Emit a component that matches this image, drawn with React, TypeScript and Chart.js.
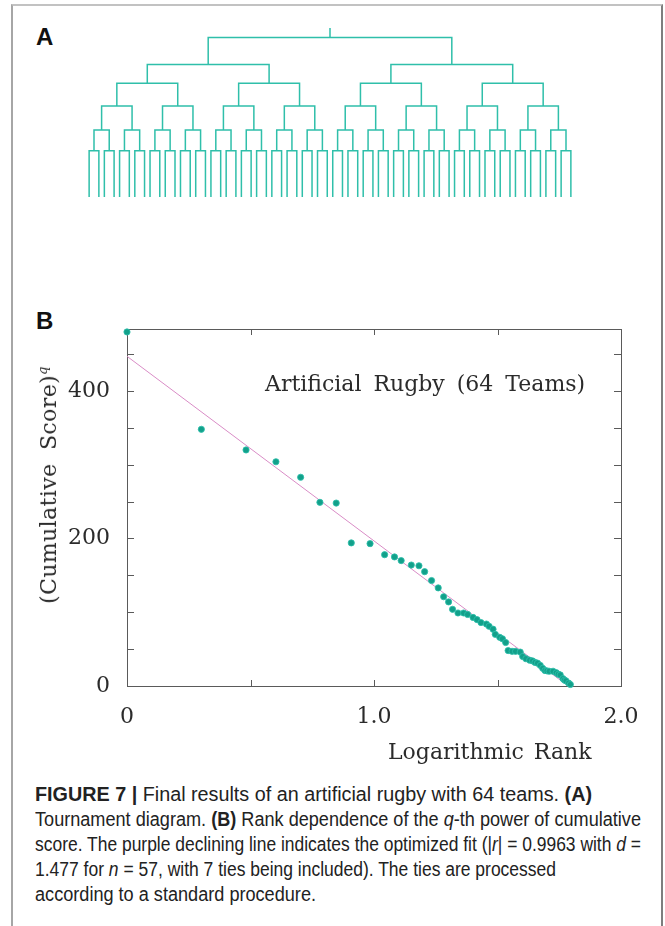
import React, { useEffect, useLayoutEffect, useRef } from 'react';
import { Chart, registerables } from 'chart.js';

Chart.register(...registerables);

// ---------------- Panel B data ----------------
const logRank: number[] = [
  0, 0.301, 0.482, 0.603, 0.703, 0.781, 0.847, 0.908, 0.984, 1.043,
  1.083, 1.110, 1.151, 1.182, 1.205, 1.233, 1.260, 1.282, 1.302, 1.318,
  1.340, 1.363, 1.379, 1.401, 1.417, 1.433, 1.455, 1.466, 1.482, 1.491,
  1.509, 1.520, 1.533, 1.543, 1.559, 1.573, 1.592, 1.602, 1.615, 1.630,
  1.642, 1.652, 1.662, 1.673, 1.683, 1.692, 1.700, 1.709, 1.725, 1.738,
  1.746, 1.754, 1.765, 1.771, 1.777, 1.788, 1.795,
];
const cumScoreQ: number[] = [
  480, 348, 320, 304, 283, 249, 248, 194, 193, 178,
  175, 170, 164, 163, 155, 143, 133, 121, 114, 104,
  99, 99, 97, 93, 90, 86, 84, 81, 77, 70,
  66, 64, 59, 48, 47, 47, 46, 40, 37, 35,
  34, 32, 31, 28, 24, 21, 20.5, 20, 20, 18,
  16, 15, 10, 8, 7, 4, 2,
];
const fitX: number[] = [0, 1.786];
const fitY: number[] = [447, 0];

const xLabelValues: number[] = [0, 1, 2];
const xLabelTexts: string[] = ['0', '1.0', '2.0'];
const yLabelValues: number[] = [0, 200, 400];
const yLabelTexts: string[] = ['0', '200', '400'];

// ---------------- Panel A (tournament bracket) ----------------
const teamCount = 64;
const roundHeights: number[] = [0, 46, 66.7, 90.7, 113.4, 132, 159];
const rootStemTop = 168.4;
const pairHalfWidth = 0.32;

function buildBracket() {
  const pts: { x: number; y: number | null }[] = [];
  let nodes: number[] = [];
  for (let k = 0; k < teamCount / 2; k++) nodes.push(k - pairHalfWidth, k + pairHalfWidth);
  for (let level = 1; level < roundHeights.length; level++) {
    const next: number[] = [];
    const hPrev = roundHeights[level - 1];
    const h = roundHeights[level];
    for (let i = 0; i < nodes.length; i += 2) {
      const a = nodes[i];
      const b = nodes[i + 1];
      pts.push({ x: a, y: hPrev }, { x: a, y: h }, { x: b, y: h }, { x: b, y: hPrev }, { x: b, y: null });
      next.push((a + b) / 2);
    }
    nodes = next;
  }
  pts.push({ x: nodes[0], y: roundHeights[roundHeights.length - 1] }, { x: nodes[0], y: rootStemTop });
  return pts;
}

const SERIF = '"DejaVu Serif", serif';
const axisColor = '#5a5a5a';
const textColor = '#2b2b2b';

const labelFor = (v: number, vals: number[], texts: string[]) => {
  const i = vals.findIndex((t) => Math.abs(t - v) < 1e-6);
  return i >= 0 ? texts[i] : '';
};

const inwardTicks = {
  id: 'inwardTicks',
  afterDraw(chart: any) {
    const { ctx, chartArea: a, scales } = chart;
    const xs = scales.x;
    const ys = scales.y;
    ctx.save();
    ctx.strokeStyle = axisColor;
    ctx.lineWidth = 1;
    ctx.beginPath();
    xs.ticks.forEach((t: any) => {
      if (t.value <= xs.min + 1e-9 || t.value >= xs.max - 1e-9) return;
      const p = Math.round(xs.getPixelForValue(t.value)) + 0.5;
      ctx.moveTo(p, a.bottom);
      ctx.lineTo(p, a.bottom - 6);
      ctx.moveTo(p, a.top);
      ctx.lineTo(p, a.top + 6);
    });
    ys.ticks.forEach((t: any) => {
      if (t.value <= ys.min + 1e-9 || t.value >= ys.max - 1e-9) return;
      if (Math.abs(t.value % 50) > 1e-6) return;
      const p = Math.round(ys.getPixelForValue(t.value)) + 0.5;
      ctx.moveTo(a.left, p);
      ctx.lineTo(a.left + 7, p);
      ctx.moveTo(a.right, p);
      ctx.lineTo(a.right - 7, p);
    });
    ctx.stroke();
    ctx.restore();
  },
};

function BracketChart() {
  const ref = useRef<HTMLCanvasElement>(null);
  useEffect(() => {
    if (!ref.current) return;
    const chart = new Chart(ref.current, {
      type: 'scatter',
      data: {
        datasets: [
          {
            data: buildBracket() as any,
            showLine: true,
            borderColor: '#2fbfaa',
            borderWidth: 1.5,
            pointRadius: 0,
            spanGaps: false,
            clip: false as any,
          },
        ],
      },
      options: {
        responsive: false,
        animation: false,
        events: [],
        layout: { padding: { left: 94, right: 99, top: 28, bottom: 23 } },
        plugins: { legend: { display: false }, tooltip: { enabled: false } },
        scales: {
          x: { type: 'linear', min: 0, max: 31, display: false },
          y: { type: 'linear', min: 0, max: rootStemTop, display: false },
        },
      },
    });
    return () => chart.destroy();
  }, []);
  return <canvas ref={ref} width={665} height={220} style={{ position: 'absolute', left: 0, top: 0 }} />;
}

function RankChart() {
  const ref = useRef<HTMLCanvasElement>(null);
  useEffect(() => {
    if (!ref.current) return;
    const points = logRank.map((x, i) => ({ x, y: cumScoreQ[i] }));
    const fit = fitX.map((x, i) => ({ x, y: fitY[i] }));
    const tickFont = { family: SERIF, size: 22 };
    const chart = new Chart(ref.current, {
      type: 'scatter',
      data: {
        datasets: [
          {
            data: points,
            pointRadius: 3.1,
            backgroundColor: '#12a08a',
            borderColor: 'rgba(45,190,170,0.85)',
            borderWidth: 1,
            clip: false as any,
            order: 0,
          },
          {
            data: fit,
            showLine: true,
            pointRadius: 0,
            borderColor: '#d98cc6',
            borderWidth: 1,
            clip: false as any,
            order: 1,
          },
        ],
      },
      options: {
        responsive: false,
        animation: false,
        events: [],
        layout: { padding: { left: 67, right: 44, top: 39, bottom: 34 } },
        plugins: { legend: { display: false }, tooltip: { enabled: false } },
        scales: {
          x: {
            type: 'linear',
            position: 'bottom',
            min: 0,
            max: 2,
            grid: { display: false },
            border: { display: true, color: axisColor, width: 1 },
            ticks: {
              stepSize: 0.5,
              autoSkip: false,
              maxRotation: 0,
              padding: 10,
              font: tickFont,
              color: textColor,
              callback: (v: any) => labelFor(Number(v), xLabelValues, xLabelTexts),
            },
            afterFit: (s: any) => {
              s.height = 60;
            },
          },
          x2: {
            type: 'linear',
            position: 'top',
            min: 0,
            max: 2,
            grid: { display: false },
            border: { display: true, color: axisColor, width: 1 },
            ticks: { display: false, stepSize: 0.5 },
            afterFit: (s: any) => {
              s.height = 0;
            },
          },
          y: {
            type: 'linear',
            position: 'left',
            min: 0,
            max: 484,
            grid: { display: false },
            border: { display: true, color: axisColor, width: 1 },
            ticks: {
              stepSize: 50,
              autoSkip: false,
              padding: 9,
              font: tickFont,
              color: textColor,
              callback: (v: any) => labelFor(Number(v), yLabelValues, yLabelTexts),
            },
            afterFit: (s: any) => {
              s.width = 60;
            },
          },
          y2: {
            type: 'linear',
            position: 'right',
            min: 0,
            max: 484,
            grid: { display: false },
            border: { display: true, color: axisColor, width: 1 },
            ticks: { display: false, stepSize: 50 },
            afterFit: (s: any) => {
              s.width = 0;
            },
          },
        },
      },
      plugins: [inwardTicks],
    });
    return () => chart.destroy();
  }, []);
  return <canvas ref={ref} width={665} height={490} style={{ position: 'absolute', left: 0, top: 290 }} />;
}

const captionLeft = 35;
const captionTargetRight: number[] = [592, 641, 641, 556, 316];

function CaptionLine({ top, index, children }: { top: number; index: number; children: React.ReactNode }) {
  const ref = useRef<HTMLDivElement>(null);
  useLayoutEffect(() => {
    const el = ref.current;
    if (!el) return;
    el.style.transform = 'none';
    const w = el.getBoundingClientRect().width;
    const target = captionTargetRight[index] - captionLeft;
    if (w > 0) el.style.transform = `scaleX(${target / w})`;
  }, []);
  return (
    <div
      ref={ref}
      style={{
        position: 'absolute',
        left: captionLeft,
        top,
        whiteSpace: 'nowrap',
        fontFamily: '"Liberation Sans", Arial, sans-serif',
        fontSize: 20,
        lineHeight: '25px',
        color: '#222',
        transformOrigin: '0 0',
      }}
    >
      {children}
    </div>
  );
}

export default function App() {
  const captionTop = 782;
  return (
    <div
      style={{
        position: 'absolute',
        left: 0,
        top: 0,
        width: 665,
        height: 926,
        overflow: 'hidden',
        background: '#fff',
      }}
    >
      <div
        style={{
          position: 'absolute',
          left: 11,
          top: 4,
          width: 652,
          height: 1000,
          boxSizing: 'border-box',
          borderTop: '2px solid #c2c2c2',
          borderLeft: '2px solid #a6a6a6',
          borderRight: '2px solid #7e7e7e',
        }}
      />
      <div
        style={{
          position: 'absolute',
          left: 36,
          top: 25,
          font: 'bold 24px "Liberation Sans", Arial, sans-serif',
          lineHeight: '24px',
          color: '#111',
        }}
      >
        A
      </div>
      <div
        style={{
          position: 'absolute',
          left: 36,
          top: 309,
          font: 'bold 24px "Liberation Sans", Arial, sans-serif',
          lineHeight: '24px',
          color: '#111',
        }}
      >
        B
      </div>
      <BracketChart />
      <RankChart />
      <div
        style={{
          position: 'absolute',
          left: 265,
          top: 373,
          fontFamily: SERIF,
          fontSize: 22,
          lineHeight: '22px',
          wordSpacing: 5,
          whiteSpace: 'nowrap',
          color: textColor,
        }}
      >
        Artificial Rugby (64 Teams)
      </div>
      <div
        style={{
          position: 'absolute',
          left: 388,
          top: 741,
          fontFamily: SERIF,
          fontSize: 22,
          lineHeight: '22px',
          wordSpacing: 3,
          whiteSpace: 'nowrap',
          color: textColor,
        }}
      >
        Logarithmic Rank
      </div>
      <div
        style={{
          position: 'absolute',
          left: 48.5,
          top: 485,
          transform: 'translate(-50%, -50%) rotate(-90deg)',
          fontFamily: SERIF,
          fontSize: 22,
          lineHeight: '26px',
          wordSpacing: 6,
          letterSpacing: 0.4,
          whiteSpace: 'nowrap',
          color: textColor,
        }}
      >
        (Cumulative Score)
        <sup style={{ fontSize: 13, fontStyle: 'italic', verticalAlign: '9px', lineHeight: 0 }}>q</sup>
      </div>

      <CaptionLine index={0} top={captionTop}>
        <b>FIGURE 7 |</b> Final results of an artificial rugby with 64 teams. <b>(A)</b>
      </CaptionLine>
      <CaptionLine index={1} top={captionTop + 25}>
        Tournament diagram. <b>(B)</b> Rank dependence of the <i>q</i>-th power of cumulative
      </CaptionLine>
      <CaptionLine index={2} top={captionTop + 50}>
        score. The purple declining line indicates the optimized fit (|<i>r</i>| = 0.9963 with <i>d</i> =
      </CaptionLine>
      <CaptionLine index={3} top={captionTop + 75}>
        1.477 for <i>n</i> = 57, with 7 ties being included). The ties are processed
      </CaptionLine>
      <CaptionLine index={4} top={captionTop + 100}>
        according to a standard procedure.
      </CaptionLine>
    </div>
  );
}
